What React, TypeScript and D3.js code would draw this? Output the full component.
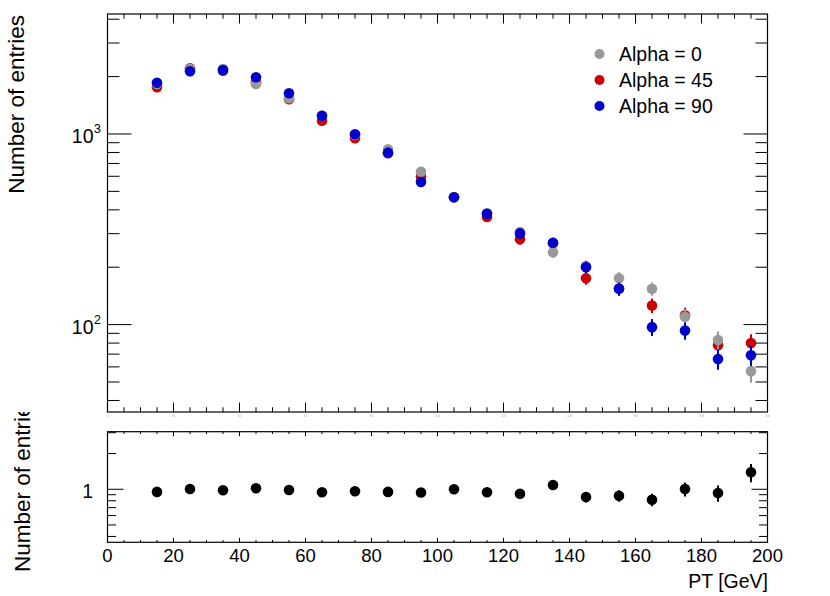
import * as d3 from "d3";

// bin centres (PT, GeV)
const BIN_CENTERS = [15, 25, 35, 45, 55, 65, 75, 85, 95, 105, 115, 125, 135, 145, 155, 165, 175, 185, 195];

// entries per bin
const ALPHA0 = [1830, 2198, 2190, 1829, 1540, 1245, 987, 831, 634, 466, 384, 306, 240, 203, 175, 154, 110, 83, 57];
const ALPHA0_ERR = [43, 47, 47, 43, 39, 35, 31, 29, 25, 22, 20, 17.5, 15.5, 14.2, 13.2, 12.4, 10.5, 9.1, 7.5];
const ALPHA45 = [1758, 2211, 2147, 1866, 1520, 1174, 949, 792, 597, 466, 367, 280, 267, 175, 154.5, 126, 112, 78, 80];
const ALPHA45_ERR = [42, 47, 46, 43, 39, 34, 31, 28, 24, 22, 19, 16.7, 16.3, 13.2, 12.4, 11.2, 10.6, 8.8, 8.9];
const ALPHA90 = [1858, 2132, 2166, 1983, 1635, 1247, 996, 798, 560, 466, 381, 301, 269, 200, 154, 97, 93, 66, 69];
const ALPHA90_ERR = [43, 46, 47, 45, 40, 35, 32, 28, 24, 22, 20, 17.3, 16.4, 14.1, 12.4, 9.9, 9.6, 8.1, 8.3];

// lower pad: Alpha = 45 / Alpha = 0
const RATIO = [0.95, 1.006, 0.98, 1.02, 0.987, 0.943, 0.962, 0.95, 0.94, 1.0, 0.945, 0.918, 1.087, 0.861, 0.883, 0.817, 1.006, 0.931, 1.39];
const RATIO_ERR = [0.032, 0.03, 0.03, 0.034, 0.036, 0.038, 0.044, 0.047, 0.054, 0.066, 0.069, 0.076, 0.097, 0.089, 0.097, 0.098, 0.135, 0.147, 0.241];

const X_MAJOR_TICKS = [0, 20, 40, 60, 80, 100, 120, 140, 160, 180, 200];
const Y_TOP_MAJOR = [100, 1000];
const Y_TOP_LABELS = ["2", "3"];
const Y_BOT_MAJOR = [1];

const LEGEND = ["Alpha = 0", "Alpha = 45", "Alpha = 90"];
const COLORS = ["#999999", "#cc0000", "#0000cc"];

const W = 830;
const H = 596;
const FONT = "'Liberation Sans', Arial, Helvetica, sans-serif";

export default function App() {
  const left = 107.5, right = 767.5;
  const topY0 = 14, topY1 = 412;
  const botY0 = 431.7, botY1 = 542.3;

  const x = d3.scaleLinear().domain([0, 200]).range([left, right]);
  const yTop = d3.scaleLog().domain([34.8, 4260]).range([topY1, topY0]);
  const yBot = d3.scaleLog().domain([0.357, 3.06]).range([botY1, botY0]);

  const xTicks = d3.range(0, 201, 5);
  const isMajorX = (t: number) => X_MAJOR_TICKS.includes(t);

  const series = [
    { vals: ALPHA0, errs: ALPHA0_ERR, color: COLORS[0] },
    { vals: ALPHA45, errs: ALPHA45_ERR, color: COLORS[1] },
    { vals: ALPHA90, errs: ALPHA90_ERR, color: COLORS[2] },
  ];
  // draw order seen in the picture: red, grey, blue
  const drawOrder = [1, 0, 2];

  const frame = (y0: number, y1: number, xMaj: number, xMin: number) => (
    <g>
      <rect x={left} y={y0} width={right - left} height={y1 - y0} fill="none" stroke="#000" strokeWidth={1.2} />
      {xTicks.map((t) => {
        const len = isMajorX(t) ? xMaj : xMin;
        return (
          <g key={"xt" + t}>
            <line x1={x(t)} x2={x(t)} y1={y1} y2={y1 - len} stroke="#000" strokeWidth={1} />
            <line x1={x(t)} x2={x(t)} y1={y0} y2={y0 + len} stroke="#000" strokeWidth={1} />
          </g>
        );
      })}
    </g>
  );

  const yTicks = (scale: any, majors: number[], maj: number, min: number) =>
    scale.ticks().map((t: number) => {
      const len = majors.some((m) => Math.abs(m - t) < 1e-9) ? maj : min;
      const yy = scale(t);
      return (
        <g key={"yt" + t}>
          <line x1={left} x2={left + len} y1={yy} y2={yy} stroke="#000" strokeWidth={1} />
          <line x1={right} x2={right - len} y1={yy} y2={yy} stroke="#000" strokeWidth={1} />
        </g>
      );
    });

  return (
    <div style={{ position: "absolute", left: 0, top: 0 }}>
      <svg width={W} height={H} style={{ display: "block", fontFamily: FONT }}>
        <defs>
          <clipPath id="lowerPad">
            <rect x={0} y={412} width={W} height={H - 412} />
          </clipPath>
        </defs>
        <rect width={W} height={H} fill="#fff" />

        {/* ---------- upper pad ---------- */}
        {frame(topY0, topY1, 9.5, 4.7)}
        {yTicks(yTop, Y_TOP_MAJOR, 24, 12)}

        {Y_TOP_MAJOR.map((m, i) => (
          <g key={"yl" + m}>
            <text x={93.5} y={yTop(m) + 9} textAnchor="end" fontSize={19.5} fill="#000">10</text>
            <text x={94} y={yTop(m) - 1} fontSize={12.5} fill="#000">{Y_TOP_LABELS[i]}</text>
          </g>
        ))}

        {/* squashed x labels of the upper pad */}
        {X_MAJOR_TICKS.map((t) => (
          <text key={"tl" + t} x={x(t)} y={417} textAnchor="middle" fontSize={3} fill="#aaa">{t}</text>
        ))}

        <text transform="translate(24,15) rotate(-90)" textAnchor="end" fontSize={22.5} fill="#000">
          Number of entries
        </text>

        {drawOrder.map((si) => {
          const s = series[si];
          return (
            <g key={"s" + si}>
              {BIN_CENTERS.map((c, i) => (
                <line
                  key={"e" + i}
                  x1={x(c)}
                  x2={x(c)}
                  y1={yTop(s.vals[i] - s.errs[i])}
                  y2={yTop(s.vals[i] + s.errs[i])}
                  stroke={s.color}
                  strokeWidth={2}
                />
              ))}
              {BIN_CENTERS.map((c, i) => (
                <circle key={"m" + i} cx={x(c)} cy={yTop(s.vals[i])} r={5.3} fill={s.color} />
              ))}
            </g>
          );
        })}

        {LEGEND.map((name, i) => (
          <g key={"lg" + i}>
            <circle cx={599.5} cy={54 + i * 26} r={5} fill={COLORS[i]} />
            <text x={619} y={54 + i * 26 + 7} fontSize={19.5} fill="#000">{name}</text>
          </g>
        ))}

        {/* ---------- lower pad ---------- */}
        {frame(botY0, botY1, 4.5, 2.3)}
        {yTicks(yBot, Y_BOT_MAJOR, 16, 8.5)}

        {Y_BOT_MAJOR.map((m) => (
          <text key={"bl" + m} x={93} y={yBot(m) + 8.7} textAnchor="end" fontSize={19.5} fill="#000">{m}</text>
        ))}

        {X_MAJOR_TICKS.map((t) => (
          <text key={"xl" + t} x={x(t)} y={562} textAnchor="middle" fontSize={18.5} fill="#000">{t}</text>
        ))}

        <g clipPath="url(#lowerPad)">
          <text transform="translate(30,572) rotate(-90)" textAnchor="start" fontSize={22.5} fill="#000">
            Number of entries
          </text>
        </g>

        <text x={768} y={587.5} textAnchor="end" fontSize={19.5} fill="#000">PT [GeV]</text>

        {BIN_CENTERS.map((c, i) => (
          <g key={"r" + i}>
            <line
              x1={x(c)}
              x2={x(c)}
              y1={yBot(RATIO[i] - RATIO_ERR[i])}
              y2={yBot(RATIO[i] + RATIO_ERR[i])}
              stroke="#000"
              strokeWidth={2}
            />
            <circle cx={x(c)} cy={yBot(RATIO[i])} r={5.3} fill="#000" />
          </g>
        ))}
      </svg>
    </div>
  );
}
